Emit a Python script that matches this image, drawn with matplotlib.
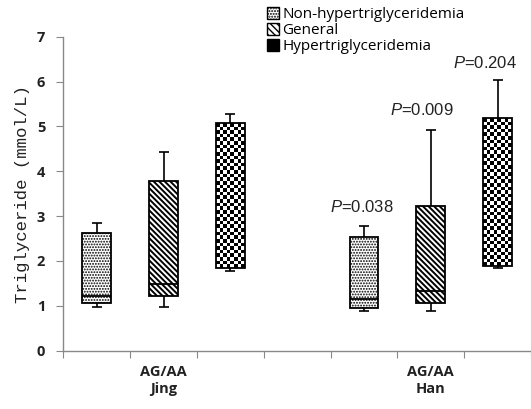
import numpy as np
import matplotlib
matplotlib.use("Agg")
import matplotlib.pyplot as plt
from matplotlib.patches import Patch

plt.rcParams['mathtext.fontset'] = 'custom'
plt.rcParams['mathtext.rm'] = 'Liberation Sans'
plt.rcParams['mathtext.it'] = 'Liberation Sans:italic'

# data (box = q1..q3, line = median, whiskers)
groups = ["AG/AA\nJing", "AG/AA\nHan"]
series = ["Non-hypertriglyceridemia", "General", "Hypertriglyceridemia"]
positions = [1, 2, 3, 5, 6, 7]
w_low = [0.98, 0.98, 1.78, 0.89, 0.89, 1.835]
q1 = [1.055, 1.22, 1.84, 0.944, 1.07, 1.895]
median = [1.22, 1.49, 2.35, 1.15, 1.34, 2.40]
q3 = [2.62, 3.78, 5.07, 2.53, 3.225, 5.19]
w_high = [2.85, 4.44, 5.28, 2.78, 4.92, 6.03]
p_labels = ["$P$=0.038", "$P$=0.009", "$P$=0.204"]
p_x = [4.97, 5.87, 6.81]
p_y = [3.21, 5.37, 6.41]

fig = plt.figure(figsize=(5.31, 4.09), dpi=100)
ax = fig.add_axes([63.3 / 531, 1 - 350.7 / 409, 1 - 63.3 / 531, (350.7 - 36.7) / 409])

bw = 0.43
dots = '......'
stripes = '\\' * 6
for i, x in enumerate(positions):
    kind = i % 3
    if kind == 2:
        # checkerboard fill
        ncol = 8
        cell = (bw / ncol) * 66.8 / 44.86
        nrow = max(1, int(round((q3[i] - q1[i]) / cell)))
        chk = np.indices((nrow, ncol)).sum(axis=0) % 2
        ax.imshow(chk, cmap='gray', extent=[x - bw / 2, x + bw / 2, q1[i], q3[i]],
                  aspect='auto', interpolation='nearest', zorder=2)
        ax.bar(x, q3[i] - q1[i], bottom=q1[i], width=bw, facecolor='none',
               edgecolor='black', linewidth=1.3, zorder=3)
    else:
        b = ax.bar(x, q3[i] - q1[i], bottom=q1[i], width=bw, facecolor='white',
                   edgecolor='black', linewidth=1.3, hatch=dots if kind == 0 else stripes,
                   zorder=3)
        for p in b:
            try:
                p.set_hatch_linewidth(1.4 if kind == 1 else 0.9)
            except AttributeError:
                pass
        ax.hlines(median[i], x - bw / 2, x + bw / 2, color='black', lw=1.3, zorder=4)
    ax.vlines(x, q3[i], w_high[i], color='black', lw=1.2, zorder=2)
    ax.vlines(x, w_low[i], q1[i], color='black', lw=1.2, zorder=2)
    ax.hlines([w_high[i], w_low[i]], x - 0.075, x + 0.075, color='black', lw=1.2, zorder=2)

for t, xx, yy in zip(p_labels, p_x, p_y):
    ax.text(xx, yy, t, ha='center', va='center', fontsize=12,
            family='Liberation Sans', color='#222222')

ax.set_xlim(0.5, 7.5)
ax.set_ylim(0, 7)
ax.set_yticks(range(0, 8))
ax.set_xticks(np.arange(0.5, 7.6, 1.0))
ax.set_xticklabels([])
ax.set_xticks([2, 6], minor=True)
ax.set_xticklabels(groups, minor=True, fontsize=10.5, family='Open Sans',
                   fontweight='bold', color='#222222', linespacing=1.3)
ax.tick_params(axis='x', which='minor', length=0, pad=10)
ax.tick_params(axis='x', which='major', length=5, color='#888888')
ax.tick_params(axis='y', length=5, color='#888888', pad=8)
for lab in ax.get_yticklabels():
    lab.set_fontfamily('Open Sans')
    lab.set_fontweight('bold')
    lab.set_fontsize(10.5)
    lab.set_color('#222222')
for s in ['top', 'right']:
    ax.spines[s].set_visible(False)
for s in ['left', 'bottom']:
    ax.spines[s].set_color('#888888')
    ax.spines[s].set_linewidth(1.0)

ax.set_ylabel("Triglyceride (mmol/L)", family='Liberation Mono', fontsize=12.5,
              color='#222222', labelpad=5)

handles = [
    Patch(facecolor='white', edgecolor='black', hatch='......'),
    Patch(facecolor='white', edgecolor='black', hatch='\\' * 5),
    Patch(facecolor='black', edgecolor='black'),
]
fig.legend(handles, series, loc='upper left', bbox_to_anchor=(267 / 531, 1 - 7 / 409),
           frameon=False, handlelength=0.8, handleheight=0.8, handletextpad=0.2,
           labelspacing=0.05, borderpad=0, borderaxespad=0,
           prop={'family': 'Open Sans', 'size': 11})

fig.savefig("out.png", dpi=100)
